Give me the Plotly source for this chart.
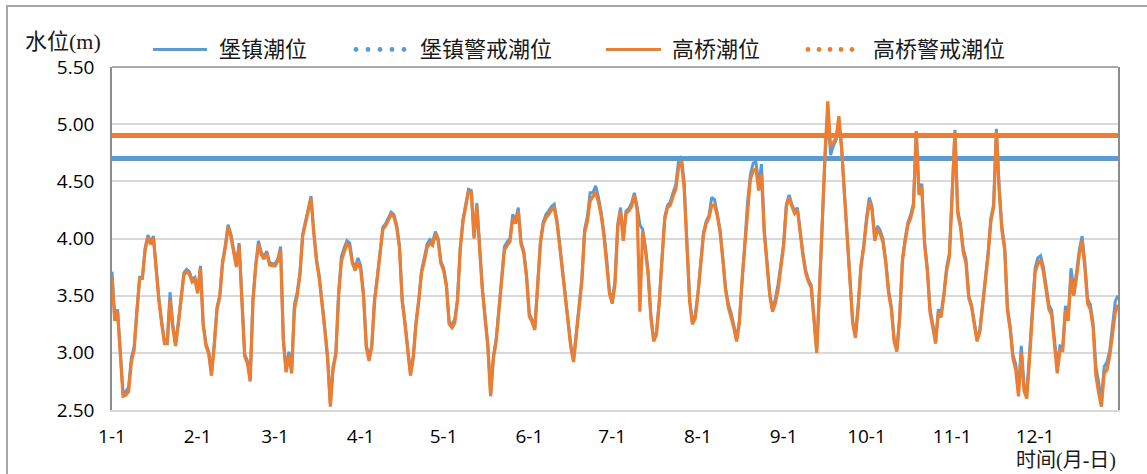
import pandas as pd
import plotly.graph_objects as go

# Daily dates (non-leap year); axis shows month starts as "m-d"
dates = pd.date_range("2021-01-01", "2021-12-31", freq="D")
month_starts = pd.date_range("2021-01-01", "2021-12-01", freq="MS")

# 高桥潮位 (m), daily, Jan..Dec
gaoqiao = [
    # Jan
    3.66, 3.28, 3.36, 3.00, 2.62, 2.63, 2.66, 2.92, 3.02, 3.35, 3.65, 3.65, 3.90, 4.01, 3.95, 4.00,
    3.70, 3.45, 3.25, 3.08, 3.08, 3.46, 3.22, 3.06, 3.25, 3.48, 3.68, 3.71, 3.69, 3.62, 3.64,
    # Feb
    3.52, 3.74, 3.24, 3.06, 2.99, 2.80, 3.06, 3.38, 3.49, 3.78, 3.92, 4.10, 4.02, 3.90, 3.75, 3.94,
    3.40, 2.97, 2.91, 2.75, 3.45, 3.75, 3.95, 3.86, 3.82, 3.87, 3.77, 3.76,
    # Mar
    3.76, 3.80, 3.90, 3.10, 2.83, 2.98, 2.82, 3.38, 3.50, 3.68, 4.02, 4.13, 4.23, 4.35, 4.05, 3.80,
    3.65, 3.45, 3.20, 2.95, 2.53, 2.86, 2.98, 3.50, 3.80, 3.88, 3.95, 3.93, 3.78, 3.72, 3.80,
    # Apr
    3.72, 3.50, 3.05, 2.93, 3.05, 3.45, 3.65, 3.85, 4.08, 4.11, 4.16, 4.21, 4.19, 4.10, 3.92, 3.45,
    3.25, 3.00, 2.80, 2.95, 3.25, 3.45, 3.70, 3.80, 3.92, 3.96, 3.94, 4.04, 3.98, 3.78,
    # May
    3.72, 3.58, 3.25, 3.22, 3.26, 3.45, 3.90, 4.15, 4.30, 4.41, 4.40, 4.00, 4.29, 3.90, 3.55, 3.30,
    3.05, 2.62, 2.95, 3.10, 3.38, 3.65, 3.90, 3.94, 3.97, 4.18, 4.13, 4.24, 3.95, 3.87, 3.66,
    # Jun
    3.32, 3.27, 3.20, 3.60, 3.95, 4.12, 4.18, 4.21, 4.25, 4.27, 4.14, 3.93, 3.72, 3.52, 3.28, 3.05,
    2.92, 3.15, 3.44, 3.62, 4.05, 4.15, 4.33, 4.36, 4.40, 4.32, 4.20, 4.02, 3.80, 3.52,
    # Jul
    3.43, 3.60, 4.10, 4.24, 3.98, 4.22, 4.24, 4.28, 4.38, 4.25, 3.36, 4.06, 3.90, 3.68, 3.30, 3.10,
    3.16, 3.43, 3.81, 4.17, 4.27, 4.29, 4.37, 4.43, 4.62, 4.67, 4.45, 3.98, 3.45, 3.25, 3.30,
    # Aug
    3.50, 3.78, 4.03, 4.13, 4.18, 4.29, 4.29, 4.20, 4.06, 3.82, 3.55, 3.40, 3.32, 3.22, 3.10, 3.26,
    3.65, 3.95, 4.30, 4.52, 4.59, 4.61, 4.42, 4.56, 4.05, 3.75, 3.50, 3.36, 3.43, 3.55, 3.76,
    # Sep
    3.93, 4.28, 4.36, 4.28, 4.22, 4.25, 4.04, 3.85, 3.70, 3.62, 3.57, 3.26, 3.00, 3.55, 4.20, 4.75,
    5.20, 4.80, 4.84, 4.88, 5.07, 4.80, 4.40, 3.98, 3.68, 3.26, 3.13, 3.40, 3.75, 3.92,
    # Oct
    4.15, 4.32, 4.25, 3.98, 4.08, 4.04, 3.96, 3.78, 3.52, 3.38, 3.10, 3.01, 3.30, 3.80, 3.98, 4.12,
    4.18, 4.28, 4.93, 4.38, 4.45, 3.95, 3.72, 3.35, 3.22, 3.08, 3.35, 3.31, 3.50, 3.72, 3.84,
    # Nov
    4.40, 4.93, 4.22, 4.10, 3.88, 3.78, 3.48, 3.40, 3.25, 3.10, 3.18, 3.40, 3.60, 3.85, 4.15, 4.27,
    4.94, 4.42, 4.07, 3.90, 3.37, 3.20, 2.95, 2.85, 2.62, 3.00, 2.67, 2.60, 2.95, 3.35,
    # Dec
    3.70, 3.78, 3.81, 3.71, 3.52, 3.38, 3.33, 3.10, 2.82, 3.02, 3.02, 3.37, 3.28, 3.66, 3.50, 3.66,
    3.86, 3.98, 3.75, 3.43, 3.38, 3.22, 2.80, 2.65, 2.53, 2.82, 2.85, 2.97, 3.18, 3.35, 3.42,
]

# 堡镇潮位 (m), daily, Jan..Dec
baozhen = [
    # Jan
    3.71, 3.31, 3.38, 3.03, 2.65, 2.66, 2.70, 2.96, 3.05, 3.37, 3.66, 3.66, 3.92, 4.03, 3.97, 4.02,
    3.72, 3.47, 3.27, 3.10, 3.11, 3.53, 3.25, 3.08, 3.27, 3.50, 3.70, 3.73, 3.71, 3.64, 3.66,
    # Feb
    3.54, 3.76, 3.26, 3.08, 3.01, 2.82, 3.08, 3.40, 3.51, 3.80, 3.94, 4.12, 4.04, 3.92, 3.77, 3.96,
    3.42, 2.99, 2.93, 2.77, 3.47, 3.77, 3.98, 3.88, 3.84, 3.89, 3.79, 3.78,
    # Mar
    3.78, 3.82, 3.93, 3.12, 2.85, 3.01, 2.85, 3.42, 3.53, 3.70, 4.04, 4.15, 4.25, 4.37, 4.07, 3.82,
    3.67, 3.47, 3.22, 2.97, 2.56, 2.88, 3.00, 3.53, 3.84, 3.92, 3.98, 3.96, 3.80, 3.74, 3.83,
    # Apr
    3.76, 3.52, 3.07, 2.95, 3.07, 3.47, 3.67, 3.87, 4.10, 4.13, 4.18, 4.23, 4.21, 4.12, 3.94, 3.47,
    3.27, 3.02, 2.82, 2.97, 3.27, 3.47, 3.72, 3.83, 3.95, 3.99, 3.97, 4.06, 4.00, 3.80,
    # May
    3.74, 3.60, 3.27, 3.25, 3.29, 3.47, 3.92, 4.17, 4.32, 4.43, 4.42, 4.02, 4.31, 3.92, 3.57, 3.32,
    3.07, 2.64, 2.97, 3.12, 3.40, 3.67, 3.93, 3.97, 4.00, 4.21, 4.16, 4.27, 3.97, 3.89, 3.68,
    # Jun
    3.34, 3.29, 3.22, 3.62, 3.97, 4.14, 4.21, 4.24, 4.28, 4.30, 4.16, 3.95, 3.74, 3.54, 3.30, 3.07,
    2.94, 3.17, 3.46, 3.65, 4.08, 4.19, 4.40, 4.40, 4.46, 4.36, 4.23, 4.05, 3.82, 3.54,
    # Jul
    3.45, 3.63, 4.13, 4.27, 4.00, 4.24, 4.26, 4.31, 4.40, 4.28, 4.12, 4.08, 3.93, 3.71, 3.32, 3.12,
    3.18, 3.45, 3.83, 4.19, 4.29, 4.32, 4.40, 4.47, 4.68, 4.72, 4.50, 4.00, 3.47, 3.27, 3.33,
    # Aug
    3.52, 3.80, 4.05, 4.15, 4.20, 4.36, 4.34, 4.22, 4.08, 3.84, 3.57, 3.43, 3.35, 3.24, 3.12, 3.28,
    3.67, 3.97, 4.33, 4.56, 4.66, 4.67, 4.47, 4.65, 4.08, 3.77, 3.52, 3.38, 3.47, 3.60, 3.80,
    # Sep
    3.95, 4.30, 4.38, 4.30, 4.24, 4.27, 4.06, 3.87, 3.72, 3.64, 3.59, 3.28, 3.02, 3.57, 4.18, 4.70,
    5.12, 4.73, 4.81, 4.86, 5.02, 4.78, 4.40, 4.00, 3.70, 3.28, 3.15, 3.42, 3.77, 3.94,
    # Oct
    4.18, 4.36, 4.28, 4.00, 4.11, 4.07, 3.99, 3.80, 3.55, 3.40, 3.12, 3.03, 3.32, 3.82, 4.00, 4.14,
    4.21, 4.31, 4.94, 4.40, 4.48, 3.98, 3.74, 3.38, 3.25, 3.10, 3.38, 3.34, 3.52, 3.75, 3.87,
    # Nov
    4.43, 4.95, 4.25, 4.13, 3.91, 3.82, 3.50, 3.42, 3.27, 3.12, 3.20, 3.43, 3.63, 3.88, 4.18, 4.30,
    4.96, 4.45, 4.10, 3.93, 3.40, 3.23, 2.98, 2.90, 2.68, 3.06, 2.72, 2.66, 3.00, 3.40,
    # Dec
    3.74, 3.83, 3.85, 3.75, 3.56, 3.42, 3.37, 3.14, 2.88, 3.06, 3.05, 3.41, 3.32, 3.74, 3.55, 3.70,
    3.90, 4.02, 3.79, 3.47, 3.42, 3.26, 2.88, 2.74, 2.58, 2.88, 2.92, 3.02, 3.25, 3.45, 3.50,
]

# Warning tide levels (m)
baozhen_warning = 4.70
gaoqiao_warning = 4.90

series_names = ["堡镇潮位", "堡镇警戒潮位", "高桥潮位", "高桥警戒潮位"]
BLUE = "#5B9BD5"
ORANGE = "#ED7D31"

W, H = 1147, 474
L, R, T, B = 112, 29, 67, 64
PW, PH = W - L - R, H - T - B


def px_x(px):
    return (px - L) / PW


def px_y(py):
    return (H - B - py) / PH


fig = go.Figure()
fig.add_trace(go.Scatter(x=dates, y=baozhen, mode="lines", name=series_names[0],
                         line=dict(color=BLUE, width=3)))
fig.add_trace(go.Scatter(x=[dates[0], dates[-1]], y=[baozhen_warning] * 2, mode="lines",
                         name=series_names[1], line=dict(color=BLUE, width=5)))
fig.add_trace(go.Scatter(x=dates, y=gaoqiao, mode="lines", name=series_names[2],
                         line=dict(color=ORANGE, width=3.2)))
fig.add_trace(go.Scatter(x=[dates[0], dates[-1]], y=[gaoqiao_warning] * 2, mode="lines",
                         name=series_names[3], line=dict(color=ORANGE, width=5)))

TICK_FONT = dict(family="Open Sans, Liberation Sans, sans-serif", size=19, color="#000000")
CJK = "Liberation Serif, Noto Sans CJK SC, sans-serif"

fig.update_layout(
    width=W, height=H, autosize=False,
    margin=dict(l=L, r=R, t=T, b=B, pad=0),
    paper_bgcolor="white", plot_bgcolor="white",
    showlegend=False,
    xaxis=dict(
        type="date",
        range=[dates[0], dates[-1]],
        tickvals=month_starts, tickformat="%-m-%-d",
        tickfont=TICK_FONT, ticks="", ticklabelstandoff=8,
        showgrid=False, zeroline=False,
        showline=True, linecolor="#d9d9d9", linewidth=2,
    ),
    yaxis=dict(
        range=[2.5, 5.5], dtick=0.5, tick0=2.5, tickformat=".2f",
        tickfont=TICK_FONT, ticks="", ticklabelstandoff=12,
        showgrid=True, gridcolor="#d9d9d9", gridwidth=1.5, zeroline=False,
        showline=True, linecolor="#8c8c8c", linewidth=1.5, mirror=True,
    ),
)

shapes = [
    # top edge of plot area
    dict(type="line", xref="paper", yref="paper", x0=0, x1=1, y0=1, y1=1,
         line=dict(color="#8c8c8c", width=1.5)),
    # outer chart frame
    dict(type="rect", xref="paper", yref="paper", x0=px_x(7), x1=px_x(1152),
         y0=px_y(482), y1=px_y(6), line=dict(color="#a6a6a6", width=2), layer="below"),
]

# legend: solid samples
for (x0, x1, yy, col) in [(153, 207, 49.5, BLUE), (606, 661, 49.5, ORANGE)]:
    shapes.append(dict(type="line", xref="paper", yref="paper", x0=px_x(x0), x1=px_x(x1),
                       y0=px_y(yy), y1=px_y(yy), line=dict(color=col, width=3)))
# legend: dotted samples
for centers, col in [([356, 368, 380, 392, 404], BLUE), ([808, 819, 830, 841, 852], ORANGE)]:
    for cx in centers:
        shapes.append(dict(type="circle", xref="paper", yref="paper",
                           xsizemode="pixel", ysizemode="pixel",
                           xanchor=px_x(cx), yanchor=px_y(49.5),
                           x0=-2.4, x1=2.4, y0=-2.4, y1=2.4,
                           fillcolor=col, line=dict(width=0)))
fig.update_layout(shapes=shapes)

annotations = [
    dict(text="水位(m)", x=px_x(23), y=px_y(42), xanchor="left", yanchor="middle", size=22),
    dict(text="时间(月-日)", x=px_x(1118), y=px_y(474), xanchor="right", yanchor="bottom", size=20),
]
for name, lx in zip(series_names, [217, 418, 670, 871]):
    annotations.append(dict(text=name, x=px_x(lx), y=px_y(49), xanchor="left", yanchor="middle",
                            size=22))
for a in annotations:
    sz = a.pop("size")
    a.update(xref="paper", yref="paper", showarrow=False,
             font=dict(family=CJK, size=sz, color="#1a1a1a"))
fig.update_layout(annotations=annotations)

fig.write_html("out.html")
